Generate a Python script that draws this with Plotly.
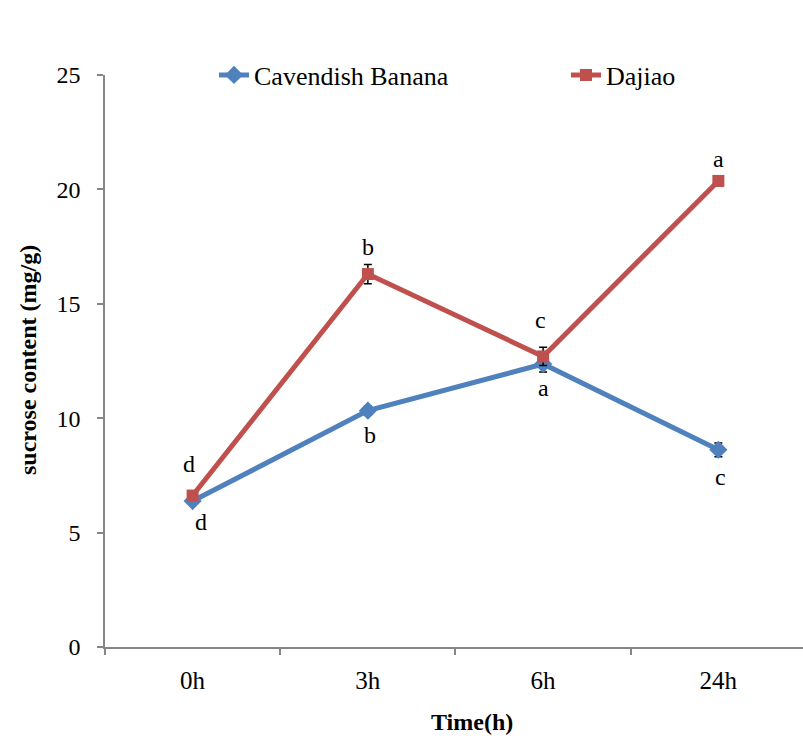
import plotly.graph_objects as go

categories = ["0h", "3h", "6h", "24h"]
cavendish = [6.38, 10.33, 12.37, 8.62]
cavendish_err = [0.15, 0.2, 0.35, 0.3]
cavendish_letters = ["d", "b", "a", "c"]
dajiao = [6.62, 16.3, 12.7, 20.37]
dajiao_err = [0.15, 0.42, 0.4, 0.2]
dajiao_letters = ["d", "b", "c", "a"]
y_ticks = [0, 5, 10, 15, 20, 25]

BLUE = "#4F81BD"
RED = "#C0504D"
FONT = "Liberation Serif"

fig = go.Figure()
fig.add_trace(go.Scatter(
    x=categories, y=cavendish, name="Cavendish Banana", mode="lines+markers",
    line=dict(color=BLUE, width=5), marker=dict(symbol="diamond", size=14, color=BLUE),
    error_y=dict(type="data", array=cavendish_err, color="black", thickness=1.5, width=4),
    legend="legend",
))
fig.add_trace(go.Scatter(
    x=categories, y=dajiao, name="Dajiao", mode="lines+markers",
    line=dict(color=RED, width=5), marker=dict(symbol="square", size=12, color=RED),
    error_y=dict(type="data", array=dajiao_err, color="black", thickness=1.5, width=4),
    legend="legend2",
))

cav_shift = [(8, -21), (2, -24), (0, -24), (2, -27)]
daj_shift = [(-4, 32), (0, 27), (-3, 36), (0, 22)]
annotations = []
for c, v, t, (dx, dy) in zip(categories, cavendish, cavendish_letters, cav_shift):
    annotations.append(dict(x=c, y=v, text=t, showarrow=False, xshift=dx, yshift=dy,
                            font=dict(family=FONT, size=24, color="black")))
for c, v, t, (dx, dy) in zip(categories, dajiao, dajiao_letters, daj_shift):
    annotations.append(dict(x=c, y=v, text=t, showarrow=False, xshift=dx, yshift=dy,
                            font=dict(family=FONT, size=24, color="black")))

annotations.append(dict(xref="paper", yref="paper", x=(28 - 105) / 698, y=(647 - 360) / 572,
                        text="<b>sucrose content (mg/g)</b>", textangle=-90, showarrow=False,
                        xanchor="center", yanchor="middle",
                        font=dict(family=FONT, size=24, color="black")))
annotations.append(dict(xref="paper", yref="paper", x=(472 - 105) / 698, y=(647 - 722) / 572,
                        text="<b>Time(h)</b>", showarrow=False,
                        xanchor="center", yanchor="middle",
                        font=dict(family=FONT, size=24, color="black")))

legend_common = dict(orientation="h", y=1.0, xanchor="left", yanchor="middle",
                     font=dict(family=FONT, size=26, color="black"), bgcolor="rgba(0,0,0,0)")

fig.update_layout(
    width=803, height=741,
    margin=dict(l=105, r=0, t=75, b=94),
    plot_bgcolor="white", paper_bgcolor="white",
    font=dict(family=FONT, size=24, color="black"),
    showlegend=True,
    legend=dict(x=(214 - 105) / 698, **legend_common),
    legend2=dict(x=(566 - 105) / 698, **legend_common),
    annotations=annotations,
)
fig.update_xaxes(
    type="category", range=[-0.5, 3.483], tickson="boundaries",
    showline=True, linecolor="#868686", linewidth=1.5,
    ticks="outside", ticklen=6, tickcolor="#868686", tickwidth=1.5,
    showgrid=False, zeroline=False, tickfont=dict(family=FONT, size=25, color="black"),
    ticklabelstandoff=10,
)
fig.update_yaxes(
    range=[0, 25], tickvals=y_ticks,
    showline=True, linecolor="#868686", linewidth=1.5,
    ticks="outside", ticklen=6, tickcolor="#868686", tickwidth=1.5,
    showgrid=False, zeroline=False, tickfont=dict(family=FONT, size=24, color="black"),
    ticklabelstandoff=12,
)

fig.write_html("out.html")
